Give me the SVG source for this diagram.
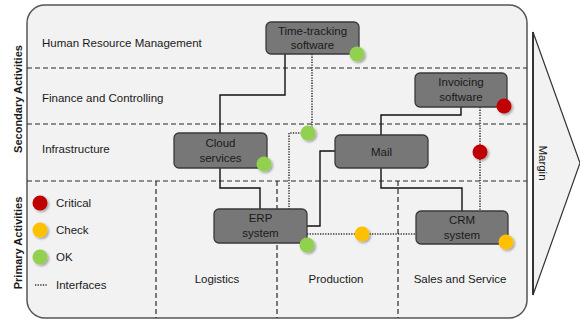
<svg xmlns="http://www.w3.org/2000/svg" width="580" height="324" viewBox="0 0 580 324">
<defs>
<filter id="sh" x="-50%" y="-50%" width="200%" height="200%">
<feDropShadow dx="1.5" dy="1.5" stdDeviation="1" flood-color="#000" flood-opacity="0.35"/>
</filter>
<style>
text{font-family:"Liberation Sans",Arial,sans-serif;fill:#1a1a1a}
.lbl{font-size:11.5px}
.side{font-size:11px;font-weight:bold;text-anchor:middle}
.nt{font-size:11.5px;text-anchor:middle}
.node rect{fill:#777;stroke:#3a3a3a;stroke-width:1.3}
.dash{stroke:#2a2a2a;stroke-width:1.2;stroke-dasharray:5 3;fill:none}
.solid{stroke:#111;stroke-width:1.4;fill:none}
.dot{stroke:#333;stroke-width:1.5;stroke-dasharray:1.3 1.3;fill:none}
.red{fill:#c00000;filter:url(#sh)}
.yel{fill:#ffc000;filter:url(#sh)}
.grn{fill:#92d050;filter:url(#sh)}
</style>
</defs>
<rect width="580" height="324" fill="#fff"/>
<g id="margin-arrow">
<polygon points="533,32 580,163 533,295" fill="#f2f2f2" stroke="#333" stroke-width="1.2"/>
<line x1="533" y1="32" x2="533" y2="295" stroke="#333" stroke-width="2"/>
<text class="lbl" transform="translate(543,163) rotate(90)" text-anchor="middle" dy="4">Margin</text>
</g>
<g id="panel">
<rect x="27" y="5" width="500" height="313" rx="18" fill="#f2f2f2" stroke="#555" stroke-width="1.5"/>
</g>
<g id="grid">
<line class="dash" x1="27" y1="68" x2="527" y2="68"/>
<line class="dash" x1="27" y1="124" x2="527" y2="124"/>
<line class="dash" x1="27" y1="181" x2="527" y2="181"/>
<line class="dash" x1="156" y1="181" x2="156" y2="318"/>
<line class="dash" x1="277" y1="181" x2="277" y2="318"/>
<line class="dash" x1="398" y1="181" x2="398" y2="318"/>
</g>
<g id="labels">
<text class="side" transform="translate(22,99) rotate(-90)">Secondary Activities</text>
<text class="side" transform="translate(22,243) rotate(-90)">Primary Activities</text>
<text class="lbl" x="42" y="47">Human Resource Management</text>
<text class="lbl" x="42" y="102">Finance and Controlling</text>
<text class="lbl" x="42" y="153">Infrastructure</text>
<text class="lbl" x="217" y="283" text-anchor="middle">Logistics</text>
<text class="lbl" x="336" y="283" text-anchor="middle">Production</text>
<text class="lbl" x="460" y="283" text-anchor="middle">Sales and Service</text>
</g>
<g id="legend">
<circle class="red" cx="40" cy="203" r="7.5"/>
<text class="lbl" x="56" y="207">Critical</text>
<circle class="yel" cx="40" cy="230" r="7.5"/>
<text class="lbl" x="56" y="234">Check</text>
<circle class="grn" cx="40" cy="257" r="7.5"/>
<text class="lbl" x="56" y="261">OK</text>
<line class="dot" x1="35" y1="285" x2="48" y2="285"/>
<text class="lbl" x="56" y="289">Interfaces</text>
</g>
<g id="connectors">
<polyline class="solid" points="285,54 285,95 220,95 220,133"/>
<polyline class="solid" points="220,168 220,188 260,188 260,209"/>
<polyline class="solid" points="335,151 320,151 320,226 307,226"/>
<polyline class="solid" points="461,107 461,115 381,115 381,135"/>
<polyline class="solid" points="381,168 381,188 462,188 462,211"/>
<polyline class="dot" points="312,54 312,130"/>
<polyline class="dot" points="302,133 289,133 289,209"/>
<polyline class="dot" points="307,234 416,234"/>
<polyline class="dot" points="480,107 480,211"/>
</g>
<g id="time-tracking" class="node">
<rect x="266" y="22" width="93" height="32" rx="5"/>
<text class="nt" x="312.5" y="35">Time-tracking</text>
<text class="nt" x="312.5" y="49">software</text>
</g>
<g id="invoicing" class="node">
<rect x="415" y="73" width="92" height="34" rx="5"/>
<text class="nt" x="461" y="86">Invoicing</text>
<text class="nt" x="461" y="101">software</text>
</g>
<g id="cloud" class="node">
<rect x="174" y="133" width="93" height="35" rx="5"/>
<text class="nt" x="220.5" y="147">Cloud</text>
<text class="nt" x="220.5" y="162">services</text>
</g>
<g id="mail" class="node">
<rect x="335" y="135" width="93" height="33" rx="5"/>
<text class="nt" x="381.5" y="156">Mail</text>
</g>
<g id="erp" class="node">
<rect x="214" y="209" width="93" height="34" rx="5"/>
<text class="nt" x="260.5" y="222">ERP</text>
<text class="nt" x="260.5" y="237">system</text>
</g>
<g id="crm" class="node">
<rect x="416" y="211" width="92" height="33" rx="5"/>
<text class="nt" x="462" y="224">CRM</text>
<text class="nt" x="462" y="239">system</text>
</g>
<g id="status">
<circle class="grn" cx="357" cy="54" r="7.5"/>
<circle class="red" cx="504" cy="106" r="7.5"/>
<circle class="grn" cx="264" cy="164" r="7.5"/>
<circle class="grn" cx="308" cy="133" r="7.5"/>
<circle class="red" cx="480" cy="152" r="7.5"/>
<circle class="grn" cx="307" cy="245" r="7.5"/>
<circle class="yel" cx="362" cy="234" r="7.5"/>
<circle class="yel" cx="506" cy="242" r="7.5"/>
</g>
</svg>
